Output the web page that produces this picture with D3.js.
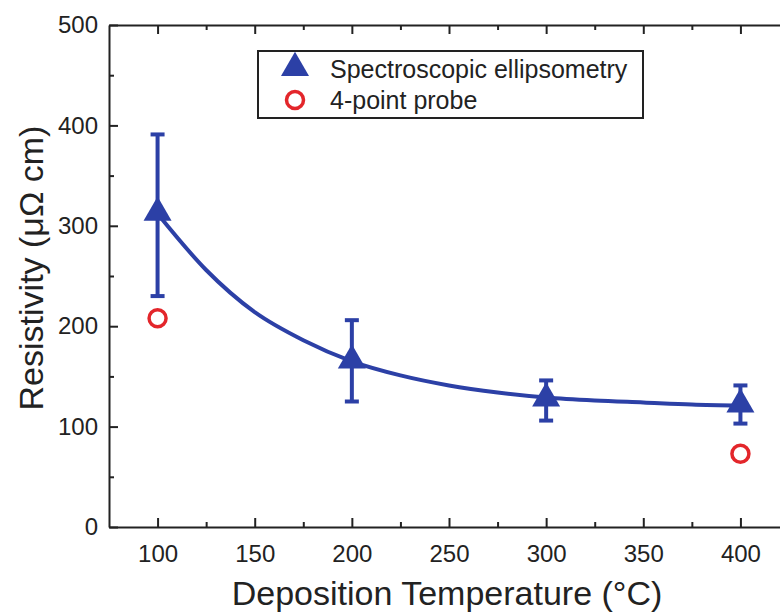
<!DOCTYPE html>
<html>
<head>
<meta charset="utf-8">
<script src="https://cdnjs.cloudflare.com/ajax/libs/d3/7.8.5/d3.min.js"></script>
<style>
  body { margin: 0; background: #fff; }
  text { font-family: "Liberation Sans", Arial, sans-serif; fill: #222; }
</style>
</head>
<body>
<div id="chart"></div>
<script>
var svgWidth = 780;
var svgHeight = 613;

// spectroscopic ellipsometry
var seTemp = [100, 200, 300, 400];
var seRes = [313, 166, 128, 122];
var seLow = [230, 125, 106, 103];
var seHigh = [391, 206, 146, 141];

// 4-point probe
var fppTemp = [100, 400];
var fppRes = [208, 73];

// fitted curve
var fitTemp = [100, 125, 150, 175, 200, 225, 250, 275, 300, 325, 350, 375, 400];
var fitRes = [312, 256, 214, 186, 165, 151, 141, 134, 129, 126, 124, 122, 121];

var xTicks = [100, 150, 200, 250, 300, 350, 400];
var xMinor = [125, 175, 225, 275, 325, 375, 425];
var yTicks = [0, 100, 200, 300, 400, 500];
var yMinor = [50, 150, 250, 350, 450];

var blue = "#2c40a6";
var red = "#e3262b";

var svg = d3.select("#chart")
  .append("svg")
  .attr("width", svgWidth)
  .attr("height", svgHeight);

var x = d3.scaleLinear().domain([75, 425]).range([109, 789]);
var y = d3.scaleLinear().domain([0, 500]).range([527, 25]);

// axes, ticks pointing inward
function styleAxis(g) {
  g.selectAll("path, line").attr("stroke", "#222").attr("stroke-width", 2);
  g.selectAll("text").attr("font-size", "24px").attr("fill", "#222");
}

svg.append("g")
  .attr("transform", "translate(0,527)")
  .call(d3.axisBottom(x).tickValues(xTicks).tickSizeInner(-9).tickSizeOuter(0).tickPadding(18))
  .call(styleAxis);
svg.append("g")
  .attr("transform", "translate(0,527)")
  .call(d3.axisBottom(x).tickValues(xMinor).tickSize(-5).tickFormat(""))
  .call(styleAxis)
  .select(".domain").remove();

svg.append("g")
  .attr("transform", "translate(0,25)")
  .call(d3.axisTop(x).tickValues(xTicks).tickSizeInner(-9).tickSizeOuter(0).tickFormat(""))
  .call(styleAxis);
svg.append("g")
  .attr("transform", "translate(0,25)")
  .call(d3.axisTop(x).tickValues(xMinor).tickSize(-5).tickFormat(""))
  .call(styleAxis)
  .select(".domain").remove();

svg.append("g")
  .attr("transform", "translate(109,0)")
  .call(d3.axisLeft(y).tickValues(yTicks).tickSizeInner(-9).tickSizeOuter(0).tickPadding(11))
  .call(styleAxis);
svg.append("g")
  .attr("transform", "translate(109,0)")
  .call(d3.axisLeft(y).tickValues(yMinor).tickSize(-5).tickFormat(""))
  .call(styleAxis)
  .select(".domain").remove();

// fit curve
var fit = fitTemp.map((t, i) => ({t: t, r: fitRes[i]}));
svg.append("path")
  .datum(fit)
  .attr("fill", "none")
  .attr("stroke", blue)
  .attr("stroke-width", 4)
  .attr("d", d3.line().x(d => x(d.t)).y(d => y(d.r)).curve(d3.curveMonotoneX));

// error bars
var se = seTemp.map((t, i) => ({t: t, r: seRes[i], lo: seLow[i], hi: seHigh[i]}));
var errs = svg.append("g").attr("stroke", blue).attr("stroke-width", 4);
errs.selectAll(".bar").data(se).enter().append("line")
  .attr("x1", d => x(d.t)).attr("x2", d => x(d.t))
  .attr("y1", d => y(d.lo)).attr("y2", d => y(d.hi));
errs.selectAll(".capHi").data(se).enter().append("line")
  .attr("x1", d => x(d.t) - 7).attr("x2", d => x(d.t) + 7)
  .attr("y1", d => y(d.hi)).attr("y2", d => y(d.hi));
errs.selectAll(".capLo").data(se).enter().append("line")
  .attr("x1", d => x(d.t) - 7).attr("x2", d => x(d.t) + 7)
  .attr("y1", d => y(d.lo)).attr("y2", d => y(d.lo));

var tri = d3.symbol().type(d3.symbolTriangle).size(340);
svg.selectAll(".tri").data(se).enter().append("path")
  .attr("d", tri)
  .attr("transform", d => `translate(${x(d.t)},${y(d.r)})`)
  .attr("fill", blue);

var fpp = fppTemp.map((t, i) => ({t: t, r: fppRes[i]}));
svg.selectAll(".ring").data(fpp).enter().append("circle")
  .attr("cx", d => x(d.t))
  .attr("cy", d => y(d.r))
  .attr("r", 8.5)
  .attr("fill", "none")
  .attr("stroke", red)
  .attr("stroke-width", 3.5);

// legend
svg.append("rect")
  .attr("x", 258).attr("y", 51)
  .attr("width", 385).attr("height", 67)
  .attr("fill", "#fff")
  .attr("stroke", "#222")
  .attr("stroke-width", 2);
svg.append("path")
  .attr("d", tri)
  .attr("transform", "translate(295,68)")
  .attr("fill", blue);
svg.append("circle")
  .attr("cx", 295).attr("cy", 100).attr("r", 8.5)
  .attr("fill", "none").attr("stroke", red).attr("stroke-width", 3.5);
svg.append("text").attr("x", 330).attr("y", 78)
  .attr("font-size", "25px").text("Spectroscopic ellipsometry");
svg.append("text").attr("x", 330).attr("y", 109)
  .attr("font-size", "25px").text("4-point probe");

// axis titles
svg.append("text")
  .attr("x", 447).attr("y", 605)
  .attr("text-anchor", "middle")
  .attr("font-size", "34px")
  .text("Deposition Temperature (°C)");

svg.append("text")
  .attr("transform", "translate(43,268) rotate(-90)")
  .attr("text-anchor", "middle")
  .attr("font-size", "34px")
  .text("Resistivity (μΩ cm)");
</script>
</body>
</html>
